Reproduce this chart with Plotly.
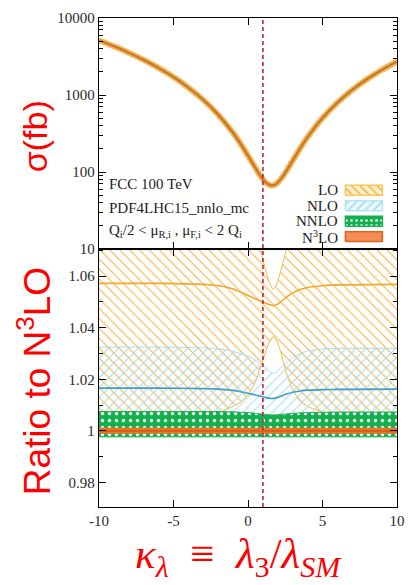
import plotly.graph_objects as go

# ---- upper panel: total cross section (N3LO) versus kappa_lambda, in fb ----
kappa_xs = [-10, -9, -8, -7, -6, -5, -4, -3, -2, -1, -0.5, 0, 0.5, 1, 1.25,
            1.5, 1.75, 2, 2.5, 3, 3.5, 4, 5, 6, 7, 8, 9, 10]
sigma_n3lo = [5140, 4303, 3541, 2855, 2245, 1709, 1249, 865, 556, 322, 233,
              163.5, 112.6, 80.6, 71.6, 67.4, 67.8, 73, 97.5, 141, 203, 284,
              503, 797, 1166, 1611, 2131, 2727]

# ---- lower panel: ratios to the N3LO central value ----
kappa_r = [-10, -6, -3, -2, -1.5, -1, -0.5, 0, 0.5, 0.8, 1.0, 1.2, 1.4, 1.6,
           1.7, 1.8, 2.0, 2.2, 2.4, 2.6, 3.0, 3.5, 4, 5, 6, 10]

lo_mid = [1.0572, 1.0572, 1.0568, 1.0563, 1.0558, 1.0550, 1.0538, 1.0525,
          1.0512, 1.0505, 1.0500, 1.0495, 1.0490, 1.0487, 1.0486, 1.0487,
          1.0492, 1.0500, 1.0510, 1.0520, 1.0535, 1.0548, 1.0556, 1.0563,
          1.0566, 1.0568]
lo_hi = [1.080, 1.080, 1.080, 1.080, 1.080, 1.080, 1.080, 1.080, 1.078,
         1.072, 1.0665, 1.062, 1.058, 1.0555, 1.0550, 1.0555, 1.058, 1.062,
         1.0665, 1.071, 1.078, 1.080, 1.080, 1.080, 1.080, 1.080]
lo_lo = [1.001, 1.002, 1.004, 1.0068, 1.0082, 1.0095, 1.0113, 1.0140, 1.0190,
         1.0240, 1.0275, 1.0310, 1.0340, 1.0360, 1.0364, 1.0360, 1.0340,
         1.0305, 1.0260, 1.0220, 1.0160, 1.0115, 1.0095, 1.0072, 1.0055,
         1.0020]

nlo_mid = [1.0166, 1.0166, 1.0164, 1.0162, 1.0160, 1.0157, 1.0152, 1.0146,
           1.0139, 1.0135, 1.0132, 1.0129, 1.0127, 1.0126, 1.0126, 1.0127,
           1.0130, 1.0134, 1.0139, 1.0143, 1.0150, 1.0155, 1.0158, 1.0160,
           1.0161, 1.0162]
nlo_hi = [1.0325, 1.0325, 1.0322, 1.0318, 1.0314, 1.0308, 1.0300, 1.0290,
          1.0275, 1.0262, 1.0253, 1.0243, 1.0233, 1.0225, 1.0223, 1.0225,
          1.0233, 1.0245, 1.0255, 1.0265, 1.0285, 1.0300, 1.0310, 1.0318,
          1.0320, 1.0320]
nlo_lo = [1.0050, 1.0050, 1.0050, 1.0050, 1.0050, 1.0050, 1.0049, 1.0048,
          1.0046, 1.0045, 1.0044, 1.0043, 1.0042, 1.0042, 1.0042, 1.0042,
          1.0043, 1.0043, 1.0044, 1.0045, 1.0046, 1.0048, 1.0049, 1.0050,
          1.0050, 1.0050]

nnlo_hi = [1.0075, 1.0075, 1.0075, 1.0075, 1.0074, 1.0074, 1.0072, 1.0071,
           1.0068, 1.0066, 1.0065, 1.0064, 1.0063, 1.0062, 1.0062, 1.0062,
           1.0063, 1.0064, 1.0065, 1.0066, 1.0068, 1.0070, 1.0071, 1.0072,
           1.0073, 1.0073]
nnlo_lo = [0.9977] * len(kappa_r)

n3lo_mid = [1.0] * len(kappa_r)
n3lo_hi = [1.0011] * len(kappa_r)
n3lo_lo = [0.9991] * len(kappa_r)

order_labels = ["LO", "NLO", "NNLO", "N<sup>3</sup>LO"]

# colours
LO_C = "#f5b546"
LO_LINE = "#f0a82c"
NLO_C = "#a6dcef"
NLO_LINE = "#3d9fcf"
NNLO_C = "#13b04e"
N3LO_C = "#e8742a"
SM_RED = "#c0203a"

SERIF = "Liberation Serif"
SANS = "Liberation Sans"

# figure geometry (pixels)
W, H = 415, 585
ML, MR, MT, MB = 99, 10, 16, 78
PW, PH = W - ML - MR, H - MT - MB
split = (507 - 248) / PH  # boundary between the two panels


def px_x(px):
    return (px - ML) / PW


def px_y(py):
    return (H - MB - py) / PH


fig = go.Figure()


def band(x, lo, hi, edge, fill_kw, xa="x", ya="y", width=1.0):
    fig.add_trace(go.Scatter(x=x, y=lo, mode="lines", xaxis=xa, yaxis=ya,
                             line=dict(color=edge, width=width, shape="spline",
                                       smoothing=0.6),
                             showlegend=False, hoverinfo="skip"))
    fig.add_trace(go.Scatter(x=x, y=hi, mode="lines", xaxis=xa, yaxis=ya,
                             fill="tonexty",
                             line=dict(color=edge, width=width, shape="spline",
                                       smoothing=0.6),
                             showlegend=False, hoverinfo="skip", **fill_kw))


# LO band: "\" hatch
band(kappa_r, lo_lo, lo_hi, LO_C,
     dict(fillcolor="rgba(0,0,0,0)",
          fillpattern=dict(shape="\\", fgcolor=LO_C, bgcolor="rgba(0,0,0,0)",
                           size=7, solidity=0.16, fillmode="replace")))
# NLO band: "/" hatch
band(kappa_r, nlo_lo, nlo_hi, NLO_C,
     dict(fillcolor="rgba(0,0,0,0)",
          fillpattern=dict(shape="/", fgcolor=NLO_C, bgcolor="rgba(0,0,0,0)",
                           size=7, solidity=0.16, fillmode="replace")))
# NNLO band: green with white dots
band(kappa_r, nnlo_lo, nnlo_hi, NNLO_C,
     dict(fillcolor=NNLO_C,
          fillpattern=dict(shape=".", fgcolor="white", bgcolor=NNLO_C,
                           size=7, solidity=0.18, fillmode="replace")))
# N3LO band
band(kappa_r, n3lo_lo, n3lo_hi, N3LO_C, dict(fillcolor=N3LO_C))

# central lines
for yv, col, w in [(lo_mid, LO_LINE, 1.6), (nlo_mid, NLO_LINE, 1.6),
                   (n3lo_mid, "#d9601a", 2.0)]:
    fig.add_trace(go.Scatter(x=kappa_r, y=yv, mode="lines",
                             line=dict(color=col, width=w, shape="spline",
                                       smoothing=0.6),
                             showlegend=False, hoverinfo="skip"))

# upper panel cross-section curve
fig.add_trace(go.Scatter(x=kappa_xs, y=sigma_n3lo, mode="lines", xaxis="x2",
                         yaxis="y2", line=dict(color="#f3b95a", width=6,
                                               shape="spline", smoothing=0.5),
                         showlegend=False, hoverinfo="skip"))
fig.add_trace(go.Scatter(x=kappa_xs, y=sigma_n3lo, mode="lines", xaxis="x2",
                         yaxis="y2", line=dict(color="#c8782a", width=2.4,
                                               shape="spline", smoothing=0.5),
                         showlegend=False, hoverinfo="skip"))

# legend swatches drawn on a helper axis spanning the upper panel
sw_x0, sw_x1 = px_x(352), px_x(390)
row_py = [189, 204.5, 220, 235.5]
swatch_styles = [
    dict(line=dict(color="#f7c463", width=1.5), fillcolor="#fff3cf",
         fillpattern=dict(shape="\\", fgcolor=LO_C, bgcolor="#fff3cf", size=6,
                          solidity=0.3, fillmode="replace")),
    dict(line=dict(color="#b8e4f2", width=1.5), fillcolor="#eaf8fd",
         fillpattern=dict(shape="/", fgcolor=NLO_C, bgcolor="#eaf8fd", size=6,
                          solidity=0.3, fillmode="replace")),
    dict(line=dict(color=NNLO_C, width=1.5), fillcolor=NNLO_C,
         fillpattern=dict(shape=".", fgcolor="white", bgcolor=NNLO_C, size=5,
                          solidity=0.2, fillmode="replace")),
    dict(line=dict(color="#e0601e", width=1.5), fillcolor="#f58c55"),
]
annotations = []
for lab, py, sty in zip(order_labels, row_py, swatch_styles):
    yc = (248 - py) / (248 - MT)
    hh = 5 / (248 - MT)
    fig.add_trace(go.Scatter(
        x=[sw_x0, sw_x1, sw_x1, sw_x0, sw_x0],
        y=[yc - hh, yc - hh, yc + hh, yc + hh, yc - hh],
        mode="lines", fill="toself", xaxis="x3", yaxis="y3",
        showlegend=False, hoverinfo="skip", **sty))
    annotations.append(dict(x=px_x(346), y=yc, xref="x3", yref="y3", text=lab,
                            showarrow=False, xanchor="right", yanchor="middle",
                            font=dict(family=SERIF, size=15, color="#1a1a1a")))

# process information text
info = ["FCC 100 TeV", "PDF4LHC15_nnlo_mc",
        "Q<sub>i</sub>/2 &lt; μ<sub>R,i</sub> , μ<sub>F,i</sub> &lt; 2 Q<sub>i</sub>"]
for txt, py in zip(info, [183, 207, 230]):
    annotations.append(dict(x=px_x(107), y=px_y(py), xref="paper", yref="paper",
                            text=txt, showarrow=False, xanchor="left",
                            yanchor="middle",
                            font=dict(family=SERIF, size=15, color="#222")))

# axis titles
SP = "\u2002"
annotations += [
    dict(x=px_x(33), y=px_y(135), xref="paper", yref="paper", text="σ(fb)",
         textangle=-90, showarrow=False, xanchor="center", yanchor="middle",
         font=dict(family=SANS, size=34, color="#ff0000")),
    dict(x=px_x(33), y=px_y(381), xref="paper", yref="paper",
         text="Ratio to N<sup>3</sup>LO", textangle=-90, showarrow=False,
         xanchor="center", yanchor="middle",
         font=dict(family=SANS, size=37, color="#ff0000")),
    dict(x=px_x(242), y=px_y(557), xref="paper", yref="paper",
         text=(f"<i>κ<sub>λ</sub></i>{SP}≡{SP}<i>λ</i><sub>3</sub>"
               f"/<i>λ<sub>SM</sub></i>"),
         showarrow=False, xanchor="center", yanchor="middle",
         font=dict(family=SERIF, size=43, color="#ff0000")),
]

axis_common = dict(showline=True, linecolor="black", linewidth=1.3,
                   mirror="allticks", ticks="inside", tickcolor="black",
                   tickwidth=1.2, showgrid=False, zeroline=False)
tickfont = dict(family=SERIF, size=15, color="#2a2a2a")

minor_log = [m * 10 ** e for e in range(1, 4) for m in range(2, 10)]

fig.update_layout(
    width=W, height=H,
    margin=dict(l=ML, r=MR, t=MT, b=MB),
    paper_bgcolor="white", plot_bgcolor="rgba(0,0,0,0)",
    showlegend=False,
    xaxis=dict(domain=[0, 1], anchor="y", range=[-10, 10],
               tickvals=[-10, -5, 0, 5, 10], ticktext=["-10", "-5", "0", "5", "10"],
               ticklen=7, tickfont=tickfont, **axis_common),
    yaxis=dict(domain=[0, split], anchor="x", range=[0.9705, 1.0705],
               tickvals=[0.98, 1.0, 1.02, 1.04, 1.06],
               ticktext=["0.98", "1", "1.02", "1.04", "1.06"], ticklen=7,
               minor=dict(tickvals=[0.97, 0.99, 1.01, 1.03, 1.05, 1.07],
                          ticks="inside", ticklen=4, tickcolor="black"),
               tickfont=tickfont, **axis_common),
    xaxis2=dict(domain=[0, 1], anchor="y2", range=[-10, 10], matches="x",
                tickvals=[-10, -5, 0, 5, 10], showticklabels=False, ticklen=7,
                **axis_common),
    yaxis2=dict(domain=[split, 1], anchor="x2", type="log", range=[1, 4],
                tickvals=[10, 100, 1000, 10000],
                ticktext=["10", "100", "1000", "10000"], ticklen=7,
                minor=dict(tickvals=minor_log, ticks="inside", ticklen=4,
                           tickcolor="black"),
                tickfont=tickfont, **axis_common),
    xaxis3=dict(domain=[0, 1], anchor="y3", range=[0, 1], visible=False,
                fixedrange=True),
    yaxis3=dict(domain=[split, 1], anchor="x3", range=[0, 1], visible=False,
                fixedrange=True),
    annotations=annotations,
    shapes=[dict(type="line", xref="x", yref="paper", x0=1, x1=1, y0=0, y1=1,
                 line=dict(color=SM_RED, width=1.6, dash="4px,3px"),
                 layer="above")],
)

fig.write_html("out.html")
